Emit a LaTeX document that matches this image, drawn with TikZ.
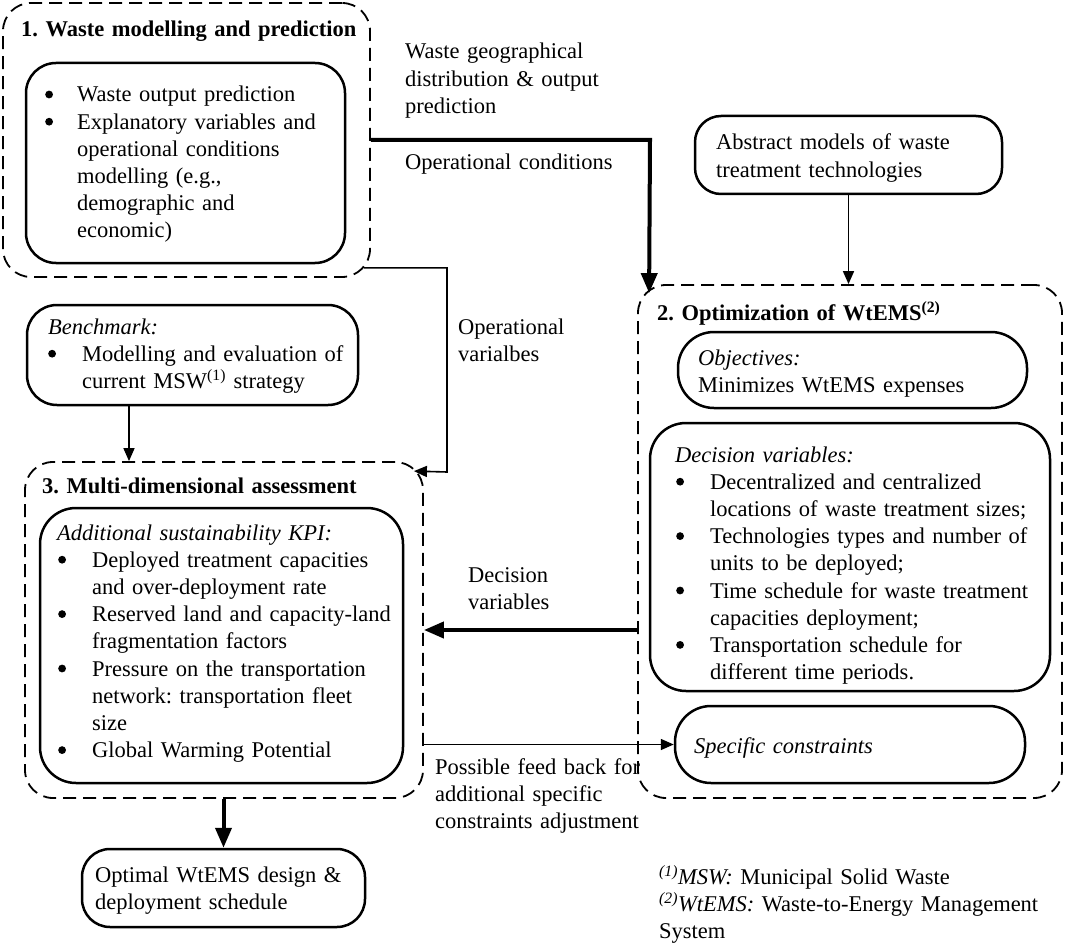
\documentclass[tikz,border=0pt]{standalone}
\usepackage{fontspec}
\setmainfont{Liberation Serif}
\usetikzlibrary{arrows.meta,calc}
\frenchspacing
\newcommand{\bul}[2]{\makebox[#2pt][l]{\hspace*{#1pt}\tikz[baseline=0pt]\fill (4pt,7.5pt) circle (3.9pt);}}
\newcommand{\ind}[1]{\hspace*{#1pt}}
\tikzset{
  dbox/.style={draw, line width=1.8pt, dash pattern=on 13pt off 7pt, rounded corners=28pt, inner sep=0pt},
  sbox/.style={draw, line width=2.5pt, rounded corners=#1, inner sep=0pt},
  txt/.style={inner sep=0pt, anchor=base west, text width=420pt, font=\fontsize{22.5}{27.2}\selectfont\frenchspacing},
  tarrow/.style={line width=1.6pt, -{Triangle[length=13pt,width=11pt]}},
  barrow/.style={line width=4pt, -{Triangle[length=20pt,width=16pt]}},
}
\begin{document}
\begin{tikzpicture}[x=1pt,y=-1pt]
\useasboundingbox (0,0) rectangle (1065,944);
\fill[white] (0,0) rectangle (1065,944);

% Box 1
\node[dbox, minimum width=367pt, minimum height=274pt] (b1) at (186.5,140) {};
\node[txt] (t1) at (21,37) {\bfseries 1. Waste modelling and prediction};
\node[sbox=30pt, minimum width=319pt, minimum height=200pt] (b1in) at (185.5,163) {};
\node[txt] (t1in) at (45,102) {\bul{0}{32}Waste output prediction\\
\bul{0}{32}Explanatory variables and\\ \ind{32}operational conditions\\ \ind{32}modelling (e.g.,\\ \ind{32}demographic and\\ \ind{32}economic)};

% labels of the upper arrow
\node[txt] (lwg) at (405,59) {Waste geographical\\ distribution \& output\\ prediction};
\node[txt] (loc) at (405,170) {Operational conditions};

% Abstract models
\node[sbox=26pt, minimum width=307pt, minimum height=78pt] (ab) at (848.5,155) {};
\node[txt] (tab) at (716,150) {Abstract models of waste\\ treatment technologies};

% Box 2
\node[dbox, minimum width=424pt, minimum height=513pt] (b2) at (850,541.5) {};
\node[txt] (t2) at (657,320) {\bfseries 2. Optimization of WtEMS\textsuperscript{(2)}};
\node[sbox=36pt, minimum width=349pt, minimum height=76pt] (obj) at (852.5,370) {};
\node[txt] (tobj) at (698,365) {\textit{Objectives:}\\ Minimizes WtEMS expenses};
\node[sbox=36pt, minimum width=400pt, minimum height=268pt] (dv) at (850,557) {};
\node[txt] (tdv) at (675,462) {\textit{Decision variables:}\\
\bul{1}{35}Decentralized and centralized\\ \ind{35}locations of waste treatment sizes;\\
\bul{1}{35}Technologies types and number of\\ \ind{35}units to be deployed;\\
\bul{1}{35}Time schedule for waste treatment\\ \ind{35}capacities deployment;\\
\bul{1}{35}Transportation schedule for\\ \ind{35}different time periods.};
\node[sbox=36pt, minimum width=350pt, minimum height=77pt] (sc) at (850,744.5) {};
\node[txt] (tsc) at (694,753) {\textit{Specific constraints}};

% Benchmark
\node[sbox=30pt, minimum width=331pt, minimum height=100pt] (bm) at (192.5,355) {};
\node[txt] (tbm) at (48,334) {\textit{Benchmark:}\\
\bul{0}{34}Modelling and evaluation of\\ \ind{34}current MSW\textsuperscript{(1)} strategy};

% Box 3
\node[dbox, minimum width=398pt, minimum height=336pt] (b3) at (224,630) {};
\node[txt] (t3) at (42,493) {\bfseries 3. Multi-dimensional assessment};
\node[sbox=36pt, minimum width=363pt, minimum height=275pt] (kpi) at (221.5,645.5) {};
\node[txt] (tkpi) at (57,540) {\textit{Additional sustainability KPI:}\\
\bul{1}{35}Deployed treatment capacities\\ \ind{35}and over-deployment rate\\
\bul{1}{35}Reserved land and capacity-land\\ \ind{35}fragmentation factors\\
\bul{1}{35}Pressure on the transportation\\ \ind{35}network: transportation fleet\\ \ind{35}size\\
\bul{1}{35}Global Warming Potential};

% Optimal design
\node[sbox=28pt, minimum width=283pt, minimum height=78pt] (opt) at (223.5,888) {};
\node[txt] (topt) at (95,882) {Optimal WtEMS design \&\\ deployment schedule};

% other labels
\node[txt] (lov) at (458,334) {Operational\\ varialbes};
\node[txt] (ldv) at (468,582) {Decision\\ variables};
\node[txt] (lfb) at (435,774) {Possible feed back for\\ additional specific\\ constraints adjustment};
\node[txt] (fn) at (659,884) {\textsuperscript{\itshape(1)}\textit{MSW:} Municipal Solid Waste\\
\textsuperscript{\itshape(2)}\textit{WtEMS:} Waste-to-Energy Management\\ System};

% connectors
\coordinate (k1) at (650,140);
\draw[barrow] (b1.east) -- (k1) -- ($(b2.north west)+(12,9)$);
\draw[tarrow] (ab.south) -- (ab.south |- b2.north);
\coordinate (k2) at (447,472);
\draw[tarrow] ($(b1.south east)+(-7,-10)$) -| (k2) -- ($(b3.north east)+(-10,10)$);
\coordinate (k3) at (129,0);
\draw[tarrow] (bm.south -| k3) -- (b3.north -| k3);
\coordinate (k4) at (0,630);
\draw[barrow] (b2.west |- k4) -- (b3.east |- k4);
\draw[tarrow] (b3.east |- sc.west) -- (sc.west);
\draw[barrow] (b3.south -| opt.north) -- (opt.north);
\end{tikzpicture}
\end{document}
